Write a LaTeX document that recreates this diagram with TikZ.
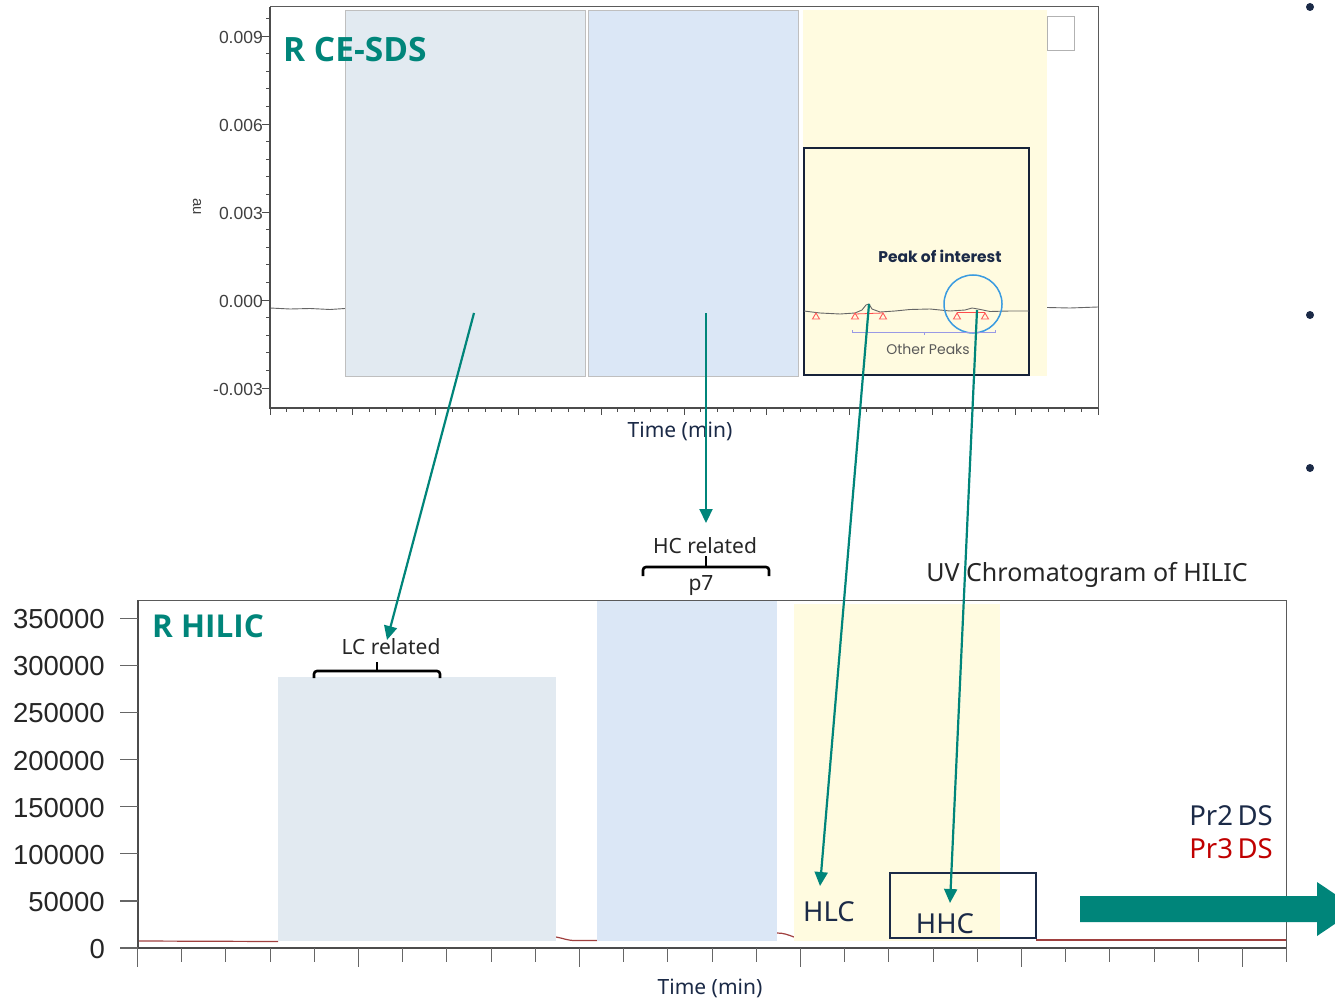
\documentclass[tikz,border=0pt]{standalone}
\usepackage{fontspec}
\setmainfont{Noto Sans}
\newfontfamily\arialf{Liberation Sans}
\newfontfamily\popf{Poppins}
\newfontfamily\ttlfont{Open Sans}
\usetikzlibrary{arrows.meta}
\definecolor{tealc}{RGB}{0,133,122}
\definecolor{navyc}{RGB}{27,42,71}
\definecolor{redc}{RGB}{192,0,0}
\definecolor{fillA}{RGB}{226,234,241}
\definecolor{fillB}{RGB}{219,231,246}
\definecolor{fillY}{RGB}{255,251,224}
\definecolor{axisc}{RGB}{90,90,90}
\definecolor{tracec}{RGB}{160,64,63}
\definecolor{circc}{RGB}{58,155,224}
\tikzset{
  arr/.style={draw=tealc, line width=2.2pt, -{Triangle[length=14pt,width=13pt]}},
  ytop/.style={font=\arialf\fontsize{17.5}{19}\selectfont, text=black!75, anchor=east, inner sep=0pt},
  ybot/.style={font=\arialf\fontsize{27.5}{30}\selectfont, text=black!85, anchor=east, inner sep=0pt},
  ttl/.style={font=\ttlfont\bfseries\fontsize{31.5}{34}\selectfont, text=tealc, anchor=west, inner sep=0pt},
  lbl/.style={font=\fontsize{21}{24}\selectfont, text=black!85, inner sep=0pt},
  navlbl/.style={font=\fontsize{27.5}{30}\selectfont, text=navyc, inner sep=0pt},
  timelbl/.style={font=\fontsize{21}{24}\selectfont, text=navyc, inner sep=0pt},
  brk/.style={draw=black, line width=2.6pt, rounded corners=3pt},
  shade/.style={draw=black!25, line width=0.8pt}
}
\begin{document}
\begin{tikzpicture}[x=1pt,y=-1pt]
\useasboundingbox (0,0) rectangle (1335,1000);
\fill[white] (0,0) rectangle (1335,1000);

% ================= TOP CHART =================
\draw[axisc, line width=1pt] (270,7) -- (1098,7) -- (1098,408);
% trace
\draw[black!60, line width=0.9pt] (270,308) -- (290,309) -- (310,308.5) -- (330,309.5) -- (345,308.5);
\draw[black!60, line width=0.9pt] (1047,307.5) -- (1070,308) -- (1098,307);
% shaded regions
\fill[fillA] (345,10) rectangle (585,376);
\draw[shade] (345,10) rectangle (585,376);
\fill[fillB] (588,10) rectangle (798,376);
\draw[shade] (588,10) rectangle (798,376);
\fill[fillY] (803,10) rectangle (1047,376);
\draw[black!30, line width=0.8pt] (1047,16) rectangle (1074,50);
% inset
\draw[navyc!80!black, line width=1.6pt] (804,148) rectangle (1029,375);
\draw[black!60, line width=0.9pt] (804,311) -- (820,313) -- (840,314) -- (855,313) -- (862,310) -- (866,305) -- (869,304) -- (872,309) -- (880,312) -- (895,311) -- (910,309.5) -- (930,309) -- (950,311) -- (965,310) -- (972,308) -- (978,309) -- (990,311.5) -- (1010,311) -- (1029,311);
\draw[red!70, line width=0.8pt] (855,314) -- (883,313);
\draw[red!70, line width=0.8pt] (957,312) -- (985,312);
\foreach \tx in {816,855,883,957,985}
  \draw[red!65, line width=0.9pt] (\tx-3.5,319) -- (\tx,313) -- (\tx+3.5,319) -- cycle;
\draw[circc, line width=1.5pt] (973,304) circle (29);
\draw[black!25!blue!40, line width=1pt] (852,330) -- (852,332) -- (995,332) -- (995,330);
\draw[black!25!blue!40, line width=1pt] (924,332) -- (924,335);
\node[font=\popf\fontsize{14}{16}\selectfont, text=black!65] (otherpk) at (928,349) {Other Peaks};
\node[font=\popf\bfseries\fontsize{15.5}{17}\selectfont, text=navyc] (poi) at (940,256) {Peak of interest};
% axes
\draw[black!70, line width=1.5pt] (270,7) -- (270,408) -- (1098,408);
\foreach \j in {-1,...,20}{
  \pgfmathsetmacro\yy{36+17.6*\j}
  \draw[black!70, line width=0.8pt] (266,\yy) -- (270,\yy);
}
\foreach \yy in {36,124,212,300,388}
  \draw[black!70, line width=0.9pt] (262,\yy) -- (270,\yy);
\foreach \j in {0,...,50}{
  \pgfmathsetmacro\xx{270+16.56*\j}
  \draw[black!70, line width=0.8pt] (\xx,408) -- (\xx,412);
}
\foreach \j in {0,...,10}{
  \pgfmathsetmacro\xx{270+82.8*\j}
  \draw[black!70, line width=0.9pt] (\xx,408) -- (\xx,415);
}
\node[ytop] (ty1) at (263,37) {0.009};
\node[ytop] (ty2) at (263,125) {0.006};
\node[ytop] (ty3) at (263,213) {0.003};
\node[ytop] (ty4) at (263,301) {0.000};
\node[ytop] (ty5) at (263,389) {-0.003};
\node[font=\arialf\fontsize{15}{17}\selectfont, text=black!75, rotate=-90] (au) at (197,207) {au};
\node[timelbl] (ttime) at (680,431) {Time (min)};
\node[ttl, font=\ttlfont\bfseries\fontsize{33.5}{36}\selectfont] (tcesds) at (283,50) {R CE-SDS};

% ================= BOTTOM CHART =================
\draw[axisc, line width=1pt] (138,600) -- (1286,600) -- (1286,948);
% trace
\draw[tracec, line width=1.2pt] (138,941) -- (278,941.5);
\draw[tracec, line width=1.2pt] (556,937) to[out=-10,in=180] (575,940.5) -- (597,940.5);
\draw[tracec, line width=1.2pt] (777,933) to[out=0,in=160] (794,937);
\draw[tracec, line width=1.2pt] (1036,940) -- (1286,940);
% shaded regions
\fill[fillA] (278,677) rectangle (556,941);
\fill[fillB] (597,601) rectangle (777,941);
\fill[fillY] (794,604) rectangle (1000,941);
% HHC box
\draw[navyc, line width=2pt] (890,873) rectangle (1036,938);
% axes
\draw[black!70, line width=1.5pt] (138,600) -- (138,948) -- (1286,948);
\foreach \k/\lab in {0/0,1/50000,2/100000,3/150000,4/200000,5/250000,6/300000,7/350000}{
  \pgfmathsetmacro\yy{948-47.1*\k}
  \draw[black!60, line width=1.3pt] (120,\yy) -- (138,\yy);
  \node[ybot] (by\k) at (105,\yy+1) {\lab};
}
\foreach \j in {0,...,26}{
  \pgfmathsetmacro\xx{137.5+44.2*\j}
  \draw[black!60, line width=1pt] (\xx,948) -- (\xx,962);
}
\foreach \j in {0,...,5}{
  \pgfmathsetmacro\xx{137.5+221*\j}
  \draw[black!60, line width=1pt] (\xx,948) -- (\xx,967);
}
\draw[black!60, line width=1pt] (1286,948) -- (1286,962);
\node[timelbl] (btime) at (710,988) {Time (min)};
\node[ttl] (thilic) at (152,626) {R HILIC};

% brackets and labels
\node[lbl] (lcrel) at (391,647) {LC related};
\draw[brk] (314,678) -- (314,671) -- (440,671) -- (440,678);
\draw[black, line width=2.6pt] (377,671) -- (377,662);
\node[lbl] (hcrel) at (705,546) {HC related};
\draw[brk] (643,576) -- (643,567) -- (769,567) -- (769,576);
\draw[black, line width=2.6pt] (706,567) -- (706,556);
\node[lbl] (p7) at (701,586) {p7};
\node[font=\fontsize{25}{28}\selectfont, text=black!85, inner sep=0pt] (uvt) at (1087,575) {UV Chromatogram of HILIC};
\node[navlbl, anchor=east] (pr2) at (1273,816) {Pr2\,DS};
\node[navlbl, anchor=east, text=redc] (pr3) at (1273,849) {Pr3\,DS};
\node[navlbl] (hlc) at (829,912) {HLC};
\node[navlbl] (hhc) at (945,924) {HHC};

% big teal arrow
\begin{scope}
\clip (0,0) rectangle (1335,1000);
\fill[tealc] (1080,896) -- (1317,896) -- (1317,882) -- (1357,909) -- (1317,936) -- (1317,922) -- (1080,922) -- cycle;
\end{scope}

% bullets
\foreach \by in {7,315,468} \fill[navyc] (1310,\by) circle (4);

% connectors
\coordinate (s1) at (474,313); \coordinate (e1) at (387,640);
\coordinate (s2) at (706,313); \coordinate (e2) at (706,523);
\coordinate (s3) at (869,304); \coordinate (e3) at (820,886);
\coordinate (s4) at (977,310); \coordinate (e4) at (950,903);
\draw[arr] (s1) -- (e1);
\draw[arr] (s2) -- (e2);
\draw[arr] (s3) -- (e3);
\draw[arr] (s4) -- (e4);
\end{tikzpicture}
\end{document}
